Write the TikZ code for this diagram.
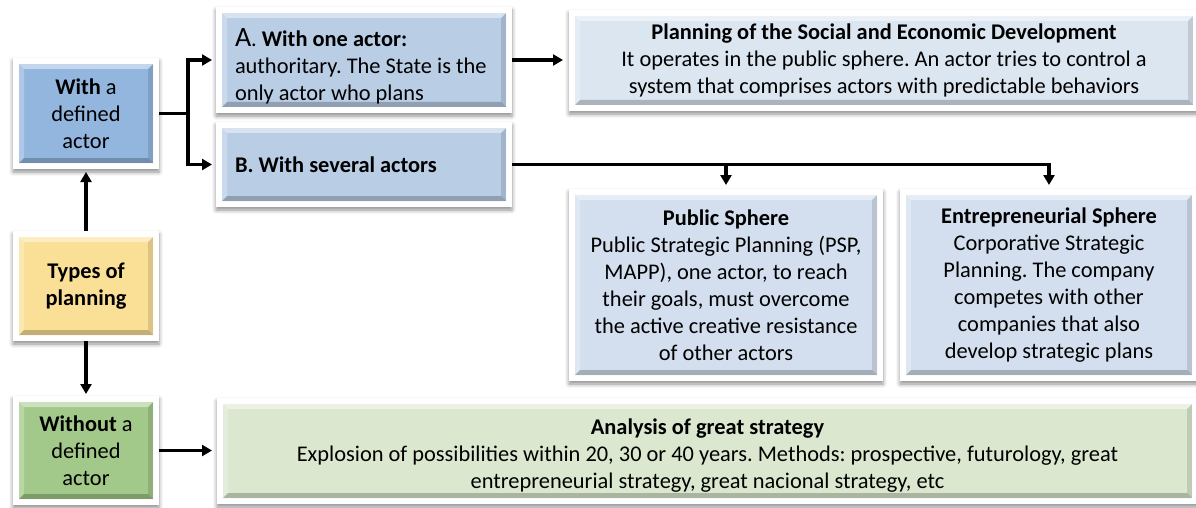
\documentclass[tikz,border=0pt]{standalone}
\usepackage{fontspec}
\setmainfont{Carlito}
\usetikzlibrary{arrows.meta,shadows.blur,backgrounds}

\definecolor{midblue}{HTML}{93B6DE}
\definecolor{softblue}{HTML}{B9CDE5}
\definecolor{paleblue}{HTML}{DCE6F1}
\definecolor{sphereblue}{HTML}{D3DFEE}
\definecolor{sand}{HTML}{FADF96}
\definecolor{leaf}{HTML}{A2C989}
\definecolor{paleleaf}{HTML}{DBE8CF}

\begin{document}
\frenchspacing
\begin{tikzpicture}[x=1pt,y=-1pt,
  box/.style={rectangle, inner sep=0pt, outer sep=6pt, align=center, text=black,
    font=\fontsize{22.4}{27}\selectfont,
    path picture={
      \coordinate (nw) at (path picture bounding box.north west);
      \coordinate (ne) at (path picture bounding box.north east);
      \coordinate (sw) at (path picture bounding box.south west);
      \coordinate (se) at (path picture bounding box.south east);
      % bevel: light upper and left rims, dark lower and right rims
      \fill[white,opacity=0.45] (nw) -- (ne) -- ([shift={(-5pt,-5pt)}]ne) -- ([shift={(5pt,-5pt)}]nw) -- cycle;
      \fill[white,opacity=0.25] (nw) -- (sw) -- ([shift={(5pt,5pt)}]sw) -- ([shift={(5pt,-5pt)}]nw) -- cycle;
      \fill[black,opacity=0.22] (sw) -- (se) -- ([shift={(-5pt,5pt)}]se) -- ([shift={(5pt,5pt)}]sw) -- cycle;
      \fill[black,opacity=0.12] (ne) -- (se) -- ([shift={(-5pt,5pt)}]se) -- ([shift={(-5pt,-5pt)}]ne) -- cycle;
    }},
  leftbox/.style={box, text width=258pt, align=flush left},
  frame/.style={fill=white, blur shadow={shadow xshift=0pt, shadow yshift=-3pt,
    shadow blur radius=4pt, shadow opacity=45}},
  arr/.style={line width=3.2pt, -{Triangle[length=10pt,width=11pt]}},
  link/.style={line width=3.2pt}
]
\useasboundingbox (0,0) rectangle (1196,508);

% left column
\node[box, fill=midblue, minimum width=134pt, minimum height=99pt] (with) at (86,113.5)
  {\textbf{With} a\\defined\\actor};
\node[box, fill=sand, minimum width=134pt, minimum height=98pt] (types) at (86,286)
  {\textbf{Types of}\\\textbf{planning}};
\node[box, fill=leaf, minimum width=134pt, minimum height=97pt] (without) at (86,450.5)
  {\textbf{Without} a\\defined\\actor};

% actor branches
\node[leftbox, fill=softblue, minimum width=284pt, minimum height=94pt] (one) at (364,60)
  {\rule{0pt}{31pt}{\fontsize{28}{27}\selectfont A}. \textbf{With one actor:}\\authoritary. The State is the\\only actor who plans};
\node[leftbox, fill=softblue, minimum width=284pt, minimum height=73pt] (several) at (364,164.5)
  {\textbf{B. With several actors}};

% right-hand descriptions
\node[box, fill=paleblue, minimum width=618pt, minimum height=89pt] (plan) at (884,60.5)
  {\textbf{Planning of the Social and Economic Development}\\It operates in the public sphere. An actor tries to control a\\system that comprises actors with predictable behaviors};
\node[box, fill=sphereblue, minimum width=302pt, minimum height=180pt] (pub) at (726,285)
  {\textbf{Public Sphere}\\Public Strategic Planning (PSP,\\MAPP), one actor, to reach\\their goals, must overcome\\the active creative resistance\\of other actors};
\node[box, fill=sphereblue, minimum width=286pt, minimum height=180pt] (ent) at (1049,285)
  {\textbf{Entrepreneurial Sphere}\\Corporative Strategic\\Planning. The company\\competes with other\\companies that also\\develop strategic plans};
\node[box, fill=paleleaf, minimum width=969pt, minimum height=94pt] (ana) at (707.5,451)
  {\rule{0pt}{24pt}\textbf{Analysis of great strategy}\\Explosion of possibilities within 20, 30 or 40 years. Methods: prospective, futurology, great\\entrepreneurial strategy, great nacional strategy, etc};

% white mounts with soft shadows
\begin{scope}[on background layer]
  \foreach \n in {with,types,without,one,several,plan,pub,ent,ana}
    \path[frame] (\n.north west) rectangle (\n.south east);
\end{scope}

% connectors
\coordinate (fork) at (188,113.5);
\draw[arr, shorten >=3pt] (types) -- (with);
\draw[arr, shorten >=2pt] (types) -- (without);
\draw[link] (with.east) -- (fork);
\draw[arr, shorten >=4pt] (fork) |- (one.west);
\draw[arr, shorten >=4pt] (fork) |- (several.west);
\draw[arr, shorten >=6pt] (one.east) -- (one.east -| plan.west);
\draw[arr, shorten >=4pt] (several.east) -| (ent.north);
\draw[arr, shorten >=4pt] (several.east -| pub.north) -- (pub.north);
\draw[arr, shorten >=5pt] (without.east) -- (without.east -| ana.west);
\end{tikzpicture}
\end{document}
